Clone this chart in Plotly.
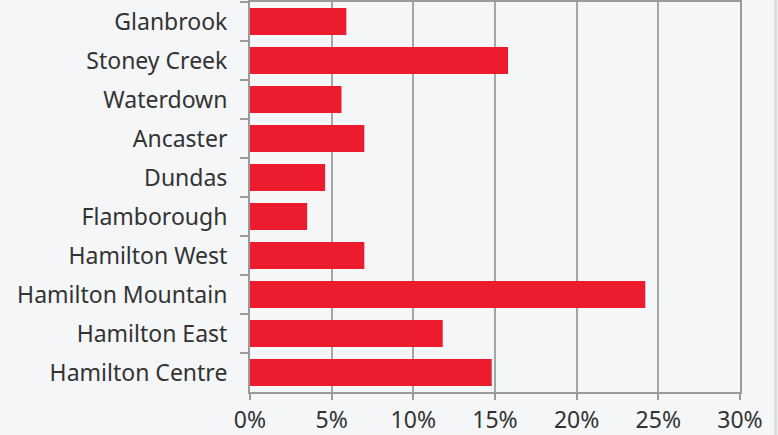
import plotly.graph_objects as go

categories = ["Glanbrook", "Stoney Creek", "Waterdown", "Ancaster", "Dundas",
              "Flamborough", "Hamilton West", "Hamilton Mountain", "Hamilton East",
              "Hamilton Centre"]
values = [5.9, 15.8, 5.6, 7.0, 4.6, 3.5, 7.0, 24.2, 11.8, 14.8]
x_ticks = [0, 5, 10, 15, 20, 25, 30]
x_tick_labels = ["0%", "5%", "10%", "15%", "20%", "25%", "30%"]

fig = go.Figure(go.Bar(
    y=categories, x=values, orientation="h",
    marker=dict(color="#EC1C2E", line=dict(width=0)),
    hoverinfo="skip",
))

fig.update_layout(
    width=778, height=435,
    margin=dict(l=250, r=38, t=2, b=43, autoexpand=False),
    paper_bgcolor="#F5F6F8", plot_bgcolor="#F5F6F8",
    bargap=0.31,
    showlegend=False,
    font=dict(family="Noto Sans, Open Sans, sans-serif", size=23, color="#333333"),
)
fig.update_xaxes(
    range=[0, 30], tickvals=x_ticks, ticktext=x_tick_labels,
    showgrid=True, gridcolor="#A6A6A6", gridwidth=2,
    showline=True, linecolor="#9A9A9A", linewidth=2, mirror=True,
    ticks="outside", ticklen=6, tickcolor="#9A9A9A", tickwidth=2,
    zeroline=False, fixedrange=True, automargin=False,
)
fig.update_yaxes(
    categoryorder="array", categoryarray=categories,
    range=[9.5, -0.5],
    showline=True, linecolor="#9A9A9A", linewidth=2, mirror=True,
    ticks="outside", ticklen=8, tickcolor="#9A9A9A", tickwidth=2,
    tickson="boundaries", showgrid=False,
    ticklabelstandoff=16,
    fixedrange=True, automargin=False,
)
fig.add_shape(type="line", xref="paper", yref="paper", x0=1.073, x1=1.073, y0=-0.2, y1=1.1,
              line=dict(color="#DCDCDC", width=3))
fig.write_html("out.html", config={"displayModeBar": False},
               post_script="document.body.style.margin='0';document.body.style.background='#F5F6F8';")
